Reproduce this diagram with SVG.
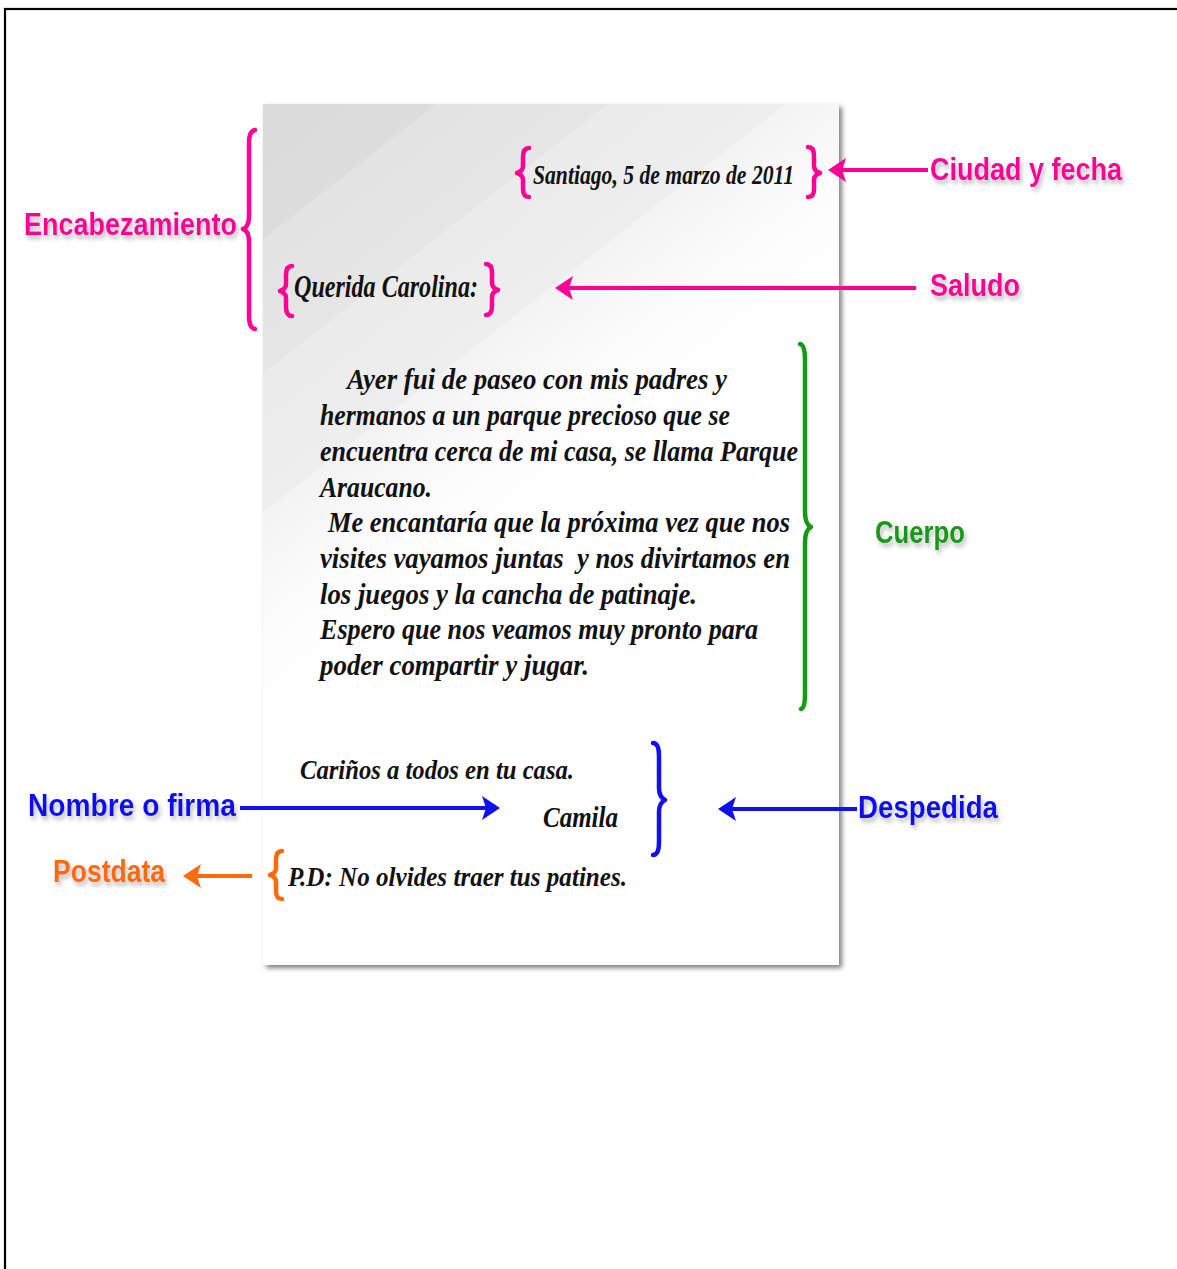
<svg xmlns="http://www.w3.org/2000/svg" width="1177" height="1269" viewBox="0 0 1177 1269">
<style>
.lbl{font-family:"Liberation Sans","DejaVu Sans",sans-serif;font-weight:bold;font-size:31px;filter:url(#txtShadow)}
.pink{fill:#ff0096}
.blue{fill:#1010f0}
.green{fill:#169a16}
.orange{fill:#ff6a0a}
.scr{font-family:"Liberation Serif","DejaVu Serif",serif;font-style:italic;font-weight:bold;fill:#111}
.body{font-size:29px}
.br{fill:none;stroke-width:4.5;stroke-linecap:round;stroke-linejoin:round}
.ar{fill:none;stroke-width:4;stroke-linecap:butt}
</style>
<defs>
<linearGradient id="paperGrad" gradientUnits="userSpaceOnUse" x1="263" y1="104" x2="563" y2="488">
<stop offset="0" stop-color="#dadada"/>
<stop offset="0.219" stop-color="#dddddd"/>
<stop offset="0.219" stop-color="#e3e3e3"/>
<stop offset="0.436" stop-color="#e6e6e6"/>
<stop offset="0.436" stop-color="#ebebeb"/>
<stop offset="0.66" stop-color="#eeeeee"/>
<stop offset="0.66" stop-color="#f3f3f3"/>
<stop offset="0.85" stop-color="#fcfcfc"/>
<stop offset="1" stop-color="#ffffff"/>
</linearGradient>
<filter id="paperShadow" x="-5%" y="-5%" width="112%" height="112%">
<feDropShadow dx="3" dy="3" stdDeviation="2.5" flood-color="#000" flood-opacity="0.5"/>
</filter>
<filter id="txtShadow" x="-10%" y="-20%" width="120%" height="160%">
<feDropShadow dx="2" dy="4" stdDeviation="2" flood-color="#888" flood-opacity="0.55"/>
</filter>
<marker id="ahPink" markerUnits="userSpaceOnUse" viewBox="0 0 18 24" refX="4" refY="12" markerWidth="18" markerHeight="24" orient="auto"><path d="M0,0 L18,12 L0,24 L4,12Z" fill="#ff0096"/></marker>
<marker id="ahBlue" markerUnits="userSpaceOnUse" viewBox="0 0 18 24" refX="4" refY="12" markerWidth="18" markerHeight="24" orient="auto"><path d="M0,0 L18,12 L0,24 L4,12Z" fill="#1010f0"/></marker>
<marker id="ahOrange" markerUnits="userSpaceOnUse" viewBox="0 0 18 24" refX="4" refY="12" markerWidth="18" markerHeight="24" orient="auto"><path d="M0,0 L18,12 L0,24 L4,12Z" fill="#ff6a0a"/></marker>
</defs>
<rect width="1177" height="1269" fill="#ffffff"/>
<rect id="frame" x="5" y="9" width="1200" height="1300" fill="none" stroke="#000" stroke-width="2.2"/>

<g id="paper">
<rect x="263" y="104" width="576" height="861" fill="url(#paperGrad)" filter="url(#paperShadow)"/>
</g>

<g id="fecha">
<text class="scr" x="533" y="184" font-size="28" textLength="261" lengthAdjust="spacingAndGlyphs">Santiago, 5 de marzo de 2011</text>
</g>
<g id="saludo">
<text class="scr" x="294" y="297" font-size="32" textLength="184" lengthAdjust="spacingAndGlyphs">Querida Carolina:</text>
</g>
<g id="cuerpo" class="scr body">
<text x="347" y="389" textLength="380" lengthAdjust="spacingAndGlyphs">Ayer fui de paseo con mis padres y</text>
<text x="320" y="425" textLength="410" lengthAdjust="spacingAndGlyphs">hermanos a un parque precioso que se</text>
<text x="320" y="461" textLength="478" lengthAdjust="spacingAndGlyphs">encuentra cerca de mi casa, se llama Parque</text>
<text x="320" y="497" textLength="112" lengthAdjust="spacingAndGlyphs">Araucano.</text>
<text x="328" y="532" textLength="462" lengthAdjust="spacingAndGlyphs">Me encantaría que la próxima vez que nos</text>
<text x="320" y="568" textLength="470" lengthAdjust="spacingAndGlyphs" xml:space="preserve">visites vayamos juntas  y nos divirtamos en</text>
<text x="320" y="604" textLength="377" lengthAdjust="spacingAndGlyphs">los juegos y la cancha de patinaje.</text>
<text x="320" y="639" textLength="438" lengthAdjust="spacingAndGlyphs">Espero que nos veamos muy pronto para</text>
<text x="320" y="675" textLength="269" lengthAdjust="spacingAndGlyphs">poder compartir y jugar.</text>
</g>
<g id="despedida">
<text class="scr" x="300" y="779" font-size="28" textLength="274" lengthAdjust="spacingAndGlyphs">Cariños a todos en tu casa.</text>
</g>
<g id="firma">
<text class="scr" x="543" y="827" font-size="29" textLength="75" lengthAdjust="spacingAndGlyphs">Camila</text>
</g>
<g id="postdata">
<text class="scr" x="288" y="886" font-size="28" textLength="339" lengthAdjust="spacingAndGlyphs">P.D: No olvides traer tus patines.</text>
</g>

<g id="braces">
<path class="br" stroke="#ff0096" d="M255,130 Q249,131 249,143 L249,216 Q249,227 243,229 Q249,231 249,242 L249,316 Q249,328 255,329"/>
<path class="br" stroke="#ff0096" d="M529,148 Q523,148 523,157 L523,166 Q523,171 517,173 Q523,175 523,180 L523,189 Q523,197 529,197"/>
<path class="br" stroke="#ff0096" d="M808,147 Q814,147 814,156 L814,166 Q814,171 820,173 Q814,175 814,180 L814,189 Q814,197 808,197"/>
<path class="br" stroke="#ff0096" d="M292,266 Q286,266 286,275 L286,284 Q286,289 280,291 Q286,293 286,298 L286,307 Q286,316 292,316"/>
<path class="br" stroke="#ff0096" d="M486,264 Q492,264 492,273 L492,283 Q492,288 498,290 Q492,292 492,297 L492,306 Q492,315 486,315"/>
<path class="br" stroke="#169a16" d="M800,344 Q805,345 805,360 L805,512 Q805,524 811,527 Q805,530 805,542 L805,694 Q805,708 801,709"/>
<path class="br" stroke="#1010f0" d="M653,743 Q659,743 659,756 L659,788 Q659,797 665,800 Q659,803 659,812 L659,842 Q659,855 653,855"/>
<path class="br" stroke="#ff6a0a" d="M282,851 Q276,851 276,860 L276,868 Q276,873 270,875 Q276,877 276,882 L276,891 Q276,899 282,899"/>
</g>

<g id="connectors">
<line class="ar" stroke="#ff0096" x1="928" y1="170" x2="842" y2="170" marker-end="url(#ahPink)"/>
<line class="ar" stroke="#ff0096" x1="916" y1="288" x2="569" y2="288" marker-end="url(#ahPink)"/>
<line class="ar" stroke="#1010f0" x1="240" y1="808" x2="486" y2="808" marker-end="url(#ahBlue)"/>
<line class="ar" stroke="#1010f0" x1="857" y1="809" x2="732" y2="809" marker-end="url(#ahBlue)"/>
<line class="ar" stroke="#ff6a0a" x1="252" y1="876" x2="197" y2="876" marker-end="url(#ahOrange)"/>
</g>

<g id="label-encabezamiento"><text class="lbl pink" x="24" y="235" font-size="32" textLength="213" lengthAdjust="spacingAndGlyphs">Encabezamiento</text></g>
<g id="label-ciudad"><text class="lbl pink" x="930" y="180" font-size="32" textLength="192" lengthAdjust="spacingAndGlyphs">Ciudad y fecha</text></g>
<g id="label-saludo"><text class="lbl pink" x="930" y="296" font-size="32" textLength="90" lengthAdjust="spacingAndGlyphs">Saludo</text></g>
<g id="label-cuerpo"><text class="lbl green" x="875" y="543" font-size="31" textLength="90" lengthAdjust="spacingAndGlyphs">Cuerpo</text></g>
<g id="label-firma"><text class="lbl blue" x="28" y="816" textLength="208" lengthAdjust="spacingAndGlyphs">Nombre o firma</text></g>
<g id="label-despedida"><text class="lbl blue" x="858" y="818" textLength="140" lengthAdjust="spacingAndGlyphs">Despedida</text></g>
<g id="label-postdata"><text class="lbl orange" x="53" y="882" textLength="112" lengthAdjust="spacingAndGlyphs">Postdata</text></g>
</svg>
